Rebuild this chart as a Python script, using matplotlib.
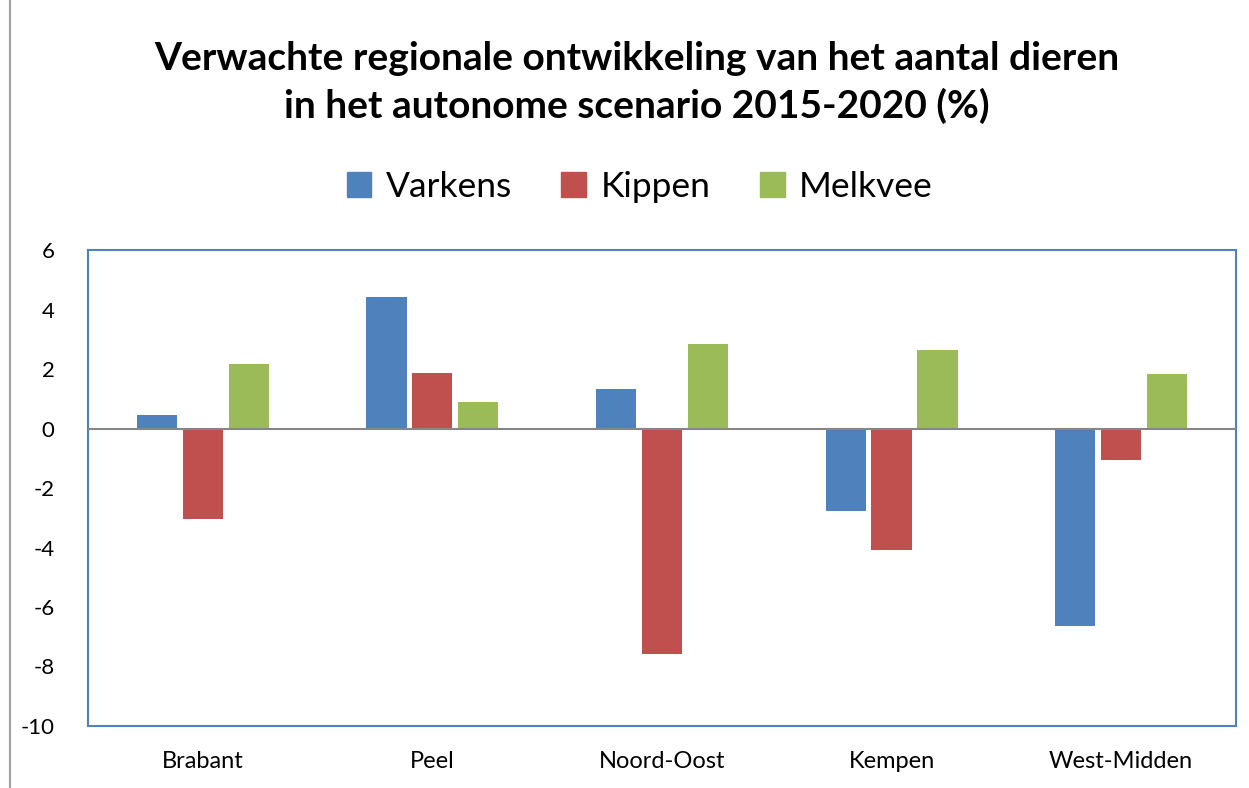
import matplotlib
matplotlib.use("Agg")
import matplotlib.pyplot as plt
import numpy as np
from matplotlib.lines import Line2D
from matplotlib.patches import Patch

plt.rcParams['font.family'] = ['Lato', 'DejaVu Sans']

categories = ["Brabant", "Peel", "Noord-Oost", "Kempen", "West-Midden"]
series_names = ["Varkens", "Kippen", "Melkvee"]
varkens = [0.45, 4.42, 1.33, -2.77, -6.64]
kippen = [-3.04, 1.87, -7.58, -4.08, -1.06]
melkvee = [2.17, 0.89, 2.84, 2.64, 1.83]
yticks = [-10, -8, -6, -4, -2, 0, 2, 4, 6]
colors = ["#4F81BD", "#C0504D", "#9BBB59"]

fig = plt.figure(figsize=(12.49, 7.88), dpi=100)
ax = fig.add_axes([0.0705, 0.0787, 0.919, 0.604])

x = np.arange(len(categories))
w = 0.175
step = 0.2
for i, (vals, c) in enumerate(zip([varkens, kippen, melkvee], colors)):
    ax.bar(x + (i - 1) * step, vals, width=w, color=c, zorder=2)

ax.set_xlim(-0.5, len(categories) - 0.5)
ax.set_ylim(-10, 6)
ax.set_yticks(yticks)
ax.set_yticklabels([str(t) for t in yticks], fontsize=16)
ax.set_xticks(x)
ax.set_xticklabels(categories, fontsize=17)
ax.tick_params(axis='both', length=0)
ax.tick_params(axis='y', pad=24)
ax.tick_params(axis='x', pad=18)
ax.axhline(0, color="#868686", lw=1.5, zorder=3)
for s in ax.spines.values():
    s.set_color("#4F81BD")
    s.set_linewidth(1.5)

fig.text(0.51, 0.926, "Verwachte regionale ontwikkeling van het aantal dieren",
         ha='center', va='center', fontsize=28, fontweight='bold')
fig.text(0.51, 0.866, "in het autonome scenario 2015-2020 (%)",
         ha='center', va='center', fontsize=28, fontweight='bold')

handles = [Patch(color=c, label=n) for c, n in zip(colors, series_names)]
fig.legend(handles=handles, loc='center', bbox_to_anchor=(0.512, 0.763), ncol=3,
           frameon=False, fontsize=25.5, handlelength=0.7, handleheight=0.7,
           handletextpad=0.4, columnspacing=1.4)

fig.add_artist(Line2D([0.008, 0.008], [0, 1], transform=fig.transFigure,
                      color="#A0A0A0", lw=1.5))

fig.savefig("out.png", dpi=100)
